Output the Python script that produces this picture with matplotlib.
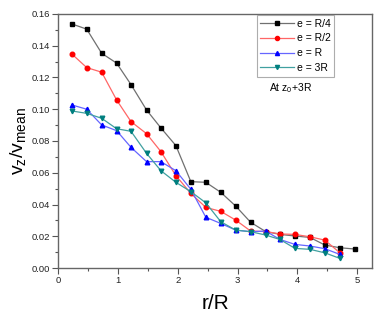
import matplotlib
matplotlib.use("Agg")
import matplotlib.pyplot as plt

plt.rcParams['font.family'] = ['Liberation Sans', 'DejaVu Sans']
plt.rcParams['mathtext.fontset'] = 'custom'
plt.rcParams['mathtext.rm'] = 'Liberation Sans'
plt.rcParams['mathtext.it'] = 'Liberation Sans'

x_black = [0.23, 0.48, 0.73, 0.98, 1.22, 1.48, 1.72, 1.97, 2.22, 2.47, 2.72, 2.97, 3.22, 3.47, 3.71, 3.96, 4.21, 4.46, 4.71, 4.96]
y_black = [0.1537, 0.1504, 0.1352, 0.129, 0.1155, 0.0995, 0.0882, 0.0771, 0.0544, 0.054, 0.0477, 0.039, 0.0288, 0.023, 0.0212, 0.0202, 0.0193, 0.0145, 0.0128, 0.012]

x_red = x_black[:19]
y_red = [0.1348, 0.1262, 0.1233, 0.1058, 0.0922, 0.0846, 0.0733, 0.0582, 0.047, 0.0382, 0.0357, 0.0302, 0.0233, 0.023, 0.0215, 0.0212, 0.0197, 0.0176, 0.0096]

x_blue = x_black[:19]
y_blue = [0.1027, 0.1000, 0.0901, 0.0865, 0.076, 0.067, 0.067, 0.0613, 0.0496, 0.032, 0.0281, 0.0239, 0.0229, 0.0233, 0.018, 0.0149, 0.0139, 0.0122, 0.0086]

x_teal = x_black[:19]
y_teal = [0.0989, 0.0974, 0.0943, 0.0877, 0.0861, 0.0722, 0.0613, 0.054, 0.0481, 0.0411, 0.0292, 0.0239, 0.0229, 0.0208, 0.018, 0.0124, 0.0118, 0.0096, 0.0061]

labels = ['e = R/4', 'e = R/2', 'e = R', 'e = 3R']
xticks = [0, 1, 2, 3, 4, 5]
yticks = [0.00, 0.02, 0.04, 0.06, 0.08, 0.10, 0.12, 0.14, 0.16]

fig = plt.figure(figsize=(3.79, 3.23), dpi=100)
ax = fig.add_axes([0.153, 0.170, 0.829, 0.787])

series = [
    (x_black, y_black, 's', 'black', '#707070'),
    (x_red, y_red, 'o', 'red', '#ff6666'),
    (x_blue, y_blue, '^', 'blue', '#6666ff'),
    (x_teal, y_teal, 'v', '#007f7f', '#40a0a0'),
]
for (xs, ys, m, mc, lc), lab in zip(series, labels):
    ax.plot(xs, ys, color=lc, lw=0.9, marker=m, ms=3.3, mfc=mc, mec=mc, label=lab)

ax.set_xlim(0, 5.25)
ax.set_ylim(0, 0.16)
ax.set_xticks(xticks)
ax.set_xticks([0.5, 1.5, 2.5, 3.5, 4.5], minor=True)
ax.set_yticks(yticks)
ax.set_yticks([0.01, 0.03, 0.05, 0.07, 0.09, 0.11, 0.13, 0.15], minor=True)
ax.set_yticklabels([f"{v:.2f}" for v in yticks])
ax.tick_params(axis='both', which='major', labelsize=6.8, length=4, width=0.8, color='#555555', direction='out', labelcolor='#222222', pad=2)
ax.tick_params(axis='both', which='minor', length=2.5, width=0.8, color='#555555', direction='out')
for s in ax.spines.values():
    s.set_color('#666666')
    s.set_linewidth(1.0)

ax.set_xlabel('r/R', fontsize=15, labelpad=6)
ax.set_ylabel(r'$\mathregular{v_z/v_{mean}}$', fontsize=14, labelpad=2)

leg = ax.legend(loc='upper left', bbox_to_anchor=(0.632, 0.995), fontsize=7.5, frameon=True,
                fancybox=False, edgecolor='#999999', handlelength=3.2, handletextpad=0.3,
                borderpad=0.35, labelspacing=0.45, borderaxespad=0, markerscale=0.9)
leg.get_frame().set_linewidth(0.8)

ax.text(0.74, 0.71, r'At z$\mathregular{_0}$+3R', transform=ax.transAxes, fontsize=7.5, ha='center', va='center')

fig.savefig('out.png', dpi=100)
